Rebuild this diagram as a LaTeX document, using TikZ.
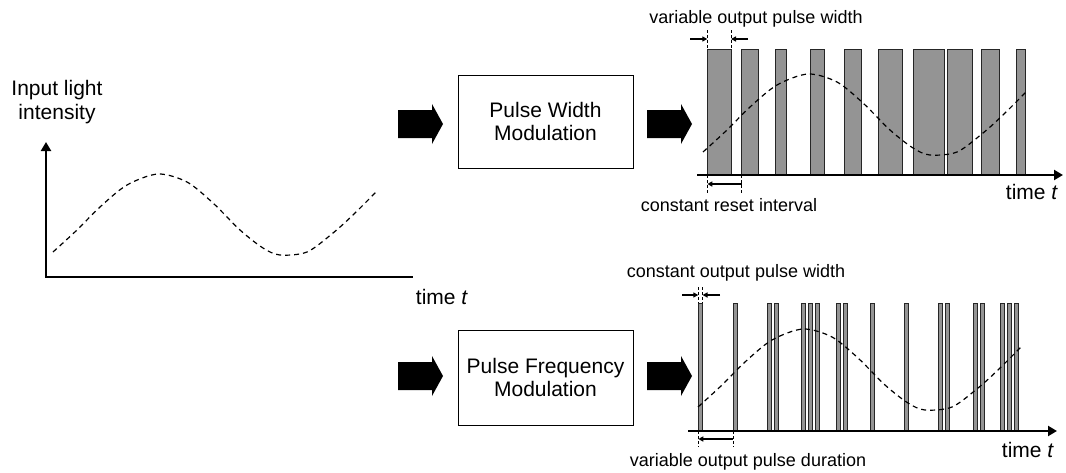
\documentclass[tikz,border=0pt]{standalone}
\usepackage{fontspec}
\setmainfont{Liberation Sans}
\usetikzlibrary{arrows.meta, positioning}

\newcommand{\lightcurve}{plot[smooth] coordinates {(53,252) (77,230) (100,207) (127,185) (158,174) (187,182) (213,203) (240,230) (263,248) (280,255) (307,252) (333,233) (353,215) (377,191)}}

\tikzset{
  big/.style={font=\fontsize{21}{23.5}\selectfont},
  small/.style={font=\fontsize{18}{20}\selectfont},
  modbox/.style={draw, line width=1pt, minimum width=175pt, minimum height=93pt, align=center, big},
  axis/.style={line width=2.2pt, -{Triangle[length=9pt,width=10pt]}},
  pulse/.style={draw=black!85, line width=1pt, fill=black!42},
  intensity/.style={line width=1.2pt, dash pattern=on 5pt off 4pt},
  guide/.style={line width=0.8pt, dash pattern=on 3pt off 2pt},
  dim/.style={line width=1.5pt, -{Triangle[length=5pt,width=5pt]}},
  fatarrow/.pic={\fill (0,-14) -- (34,-14) -- (34,-20) -- (45,0) -- (34,20) -- (34,14) -- (0,14) -- cycle;}
}

\begin{document}
\begin{tikzpicture}[x=1pt, y=-1pt]
    \useasboundingbox (0,0) rectangle (1066,472);

    % input signal
    \node[big, align=center] (ylabel) at (57,102) {Input light\\intensity};
    \coordinate (o) at (46,277);
    \draw[axis, {Triangle[length=9pt,width=10pt]}-] (46,142) -- (o) -- (413,277);
    \node[big] (tin) at (442,297) {time \textit{t}};
    \draw[intensity] \lightcurve;

    % modulators
    \node[modbox] (pwm) at (545.5,121.5) {Pulse Width\\Modulation};
    \node[modbox, minimum height=95pt] (pfm) at (545.5,377.5) {Pulse Frequency\\Modulation};
    \pic at (398,124) {fatarrow};
    \pic at (647,124) {fatarrow};
    \pic at (398,376) {fatarrow};
    \pic at (647,376) {fatarrow};

    % PWM output
    \foreach \i/\w in {0/23.7, 1/17.3, 2/10.3, 3/14, 4/17.3, 5/23.7, 6/31, 7/24.4, 8/17.3, 9/9.7}
        \draw[pulse] ({707.3+34.33*\i},49) rectangle ++(\w,126);
    \draw[axis] (697,175) -- (1063,175);
    \begin{scope}[shift={(650,-100)}]
        \draw[intensity] \lightcurve;
    \end{scope}
    \node[big] (tpwm) at (1032,192) {time \textit{t}};

    \coordinate (w1) at (707.3,39);
    \coordinate (w2) at (731,39);
    \draw[guide] (707.3,30) -- (707.3,49) (731,30) -- (731,49);
    \draw[dim] (690,39) -- (w1);
    \draw[dim] (748,39) -- (w2);
    \node[small] (vwidth) at (756,19) {variable output pulse width};

    \coordinate (r1) at (707.3,184);
    \coordinate (r2) at (741.7,184);
    \draw[guide] (707.3,175) -- (707.3,194) (741.7,175) -- (741.7,194);
    \draw[dim, {Triangle[length=5pt,width=5pt]}-] (r1) -- (r2);
    \node[small] (creset) at (729,205) {constant reset interval};

    % PFM output
    \foreach \x in {698.3, 733.3, 767.3, 774.3, 801.3, 808.3, 815.3, 836, 843, 870.3, 904.3, 938.7, 945.5, 973.3, 980.2, 1000.5, 1007.5, 1014.2}
        \draw[pulse] (\x,303) rectangle ++(4.2,128);
    \draw[axis] (688,431) -- (1057,431);
    \begin{scope}[shift={(645,155)}]
        \draw[intensity] \lightcurve;
    \end{scope}
    \node[big] (tpfm) at (1028,450) {time \textit{t}};

    \coordinate (c1) at (698.3,295);
    \coordinate (c2) at (702.5,295);
    \draw[guide] (698.3,287) -- (698.3,303) (702.5,287) -- (702.5,303);
    \draw[dim] (682,295) -- (c1);
    \draw[dim] (720,295) -- (c2);
    \node[small] (cwidth) at (736,273) {constant output pulse width};

    \coordinate (d1) at (698.3,439);
    \coordinate (d2) at (733.3,439);
    \draw[guide] (698.3,431) -- (698.3,447) (733.3,431) -- (733.3,447);
    \draw[dim, {Triangle[length=5pt,width=5pt]}-] (d1) -- (d2);
    \node[small] (vdur) at (748,462) {variable output pulse duration};
\end{tikzpicture}
\end{document}
